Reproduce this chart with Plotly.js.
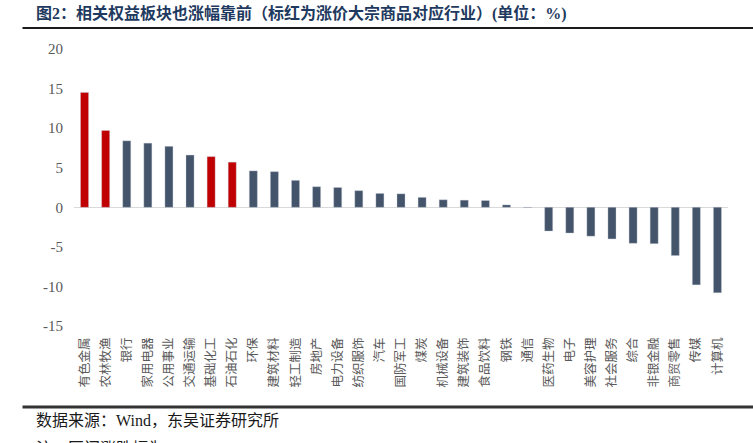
<!DOCTYPE html>
<html>
<head>
<meta charset="utf-8">
<script src="https://cdn.plot.ly/plotly-3.0.1.min.js"></script>
<style>
html,body{margin:0;padding:0;background:#fff;}
#chart{width:753px;height:443px;}
</style>
</head>
<body>
<div id="chart"></div>
<script>
const categories = ["有色金属","农林牧渔","银行","家用电器","公用事业","交通运输","基础化工","石油石化","环保","建筑材料","轻工制造","房地产","电力设备","纺织服饰","汽车","国防军工","煤炭","机械设备","建筑装饰","食品饮料","钢铁","通信","医药生物","电子","美容护理","社会服务","综合","非银金融","商贸零售","传媒","计算机"];
const values = [14.5,9.7,8.4,8.1,7.7,6.6,6.4,5.7,4.6,4.5,3.4,2.6,2.5,2.1,1.75,1.7,1.25,0.95,0.9,0.85,0.3,-0.05,-3.0,-3.25,-3.65,-4.0,-4.55,-4.6,-6.1,-9.8,-10.8];
const highlighted = ["有色金属","农林牧渔","基础化工","石油石化"];
const yTicks = [-15,-10,-5,0,5,10,15,20];
const titleText = "图2：相关权益板块也涨幅靠前（标红为涨价大宗商品对应行业）(单位：%)";
const sourceText = "数据来源：Wind，东吴证券研究所";
const noteText = "注：区间涨跌幅为 3.1-5.24";

const W = 753, H = 443;
const L = 73.5, R = 727.6, T = 49, B = 326;
const px = x => (x - L) / (R - L);
const py = y => (B - y) / (B - T);

const colors = categories.map(c => highlighted.includes(c) ? "#C00000" : "#44546A");

const trace = {
  type: "bar",
  x: categories,
  y: values,
  marker: {color: colors, line: {color: "rgba(200,205,215,0.6)", width: 0.6}},
  hoverinfo: "x+y"
};

const layout = {
  width: W, height: H,
  margin: {l: L, r: W - R, t: T, b: H - B, pad: 0},
  paper_bgcolor: "#fff", plot_bgcolor: "#fff",
  showlegend: false,
  bargap: 0.62,
  xaxis: {
    type: "category",
    tickangle: -90,
    showgrid: false, zeroline: false, showline: false,
    ticks: "", ticklabelstandoff: 8,
    tickfont: {family: "Noto Sans CJK SC, sans-serif", size: 12.5, color: "#595959"}
  },
  yaxis: {
    range: [-15, 20],
    tickvals: yTicks,
    ticktext: yTicks.map(String),
    showgrid: false, showline: false,
    zeroline: true, zerolinecolor: "#D9D9D9", zerolinewidth: 1.5,
    ticks: "", ticklabelstandoff: 10,
    tickfont: {family: "Liberation Serif, Times New Roman, serif", size: 15, color: "#595959"}
  },
  shapes: [
    {type: "line", xref: "paper", yref: "paper", x0: px(22), x1: px(753), y0: py(28), y1: py(28), line: {color: "#1a1a1a", width: 2}},
    {type: "line", xref: "paper", yref: "paper", x0: px(22), x1: px(753), y0: py(407), y1: py(407), line: {color: "#333333", width: 3}}
  ],
  annotations: [
    {text: "<b>" + titleText + "</b>", xref: "paper", yref: "paper", x: px(33), y: py(14), xanchor: "left", yanchor: "middle", showarrow: false,
     font: {family: "Liberation Serif, Noto Sans CJK SC, serif", size: 16, color: "#1F3A60"}},
    {text: sourceText, xref: "paper", yref: "paper", x: px(33), y: py(420), xanchor: "left", yanchor: "middle", showarrow: false,
     font: {family: "Liberation Serif, Noto Sans CJK SC, serif", size: 16, color: "#1a1a1a"}},
    {text: noteText, xref: "paper", yref: "paper", x: px(33), y: py(438), xanchor: "left", yanchor: "top", showarrow: false,
     font: {family: "Liberation Serif, Noto Sans CJK SC, serif", size: 16, color: "#1a1a1a"}}
  ]
};

Plotly.newPlot("chart", [trace], layout, {staticPlot: true, displayModeBar: false});
</script>
</body>
</html>
